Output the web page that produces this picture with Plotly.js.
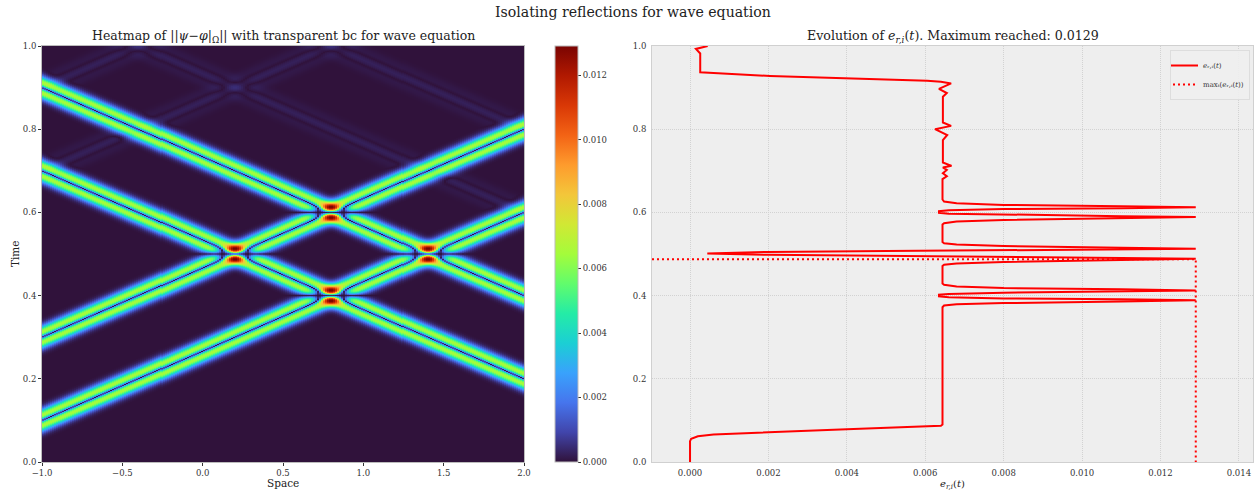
<!DOCTYPE html>
<html><head><meta charset="utf-8">
<script src="https://cdn.plot.ly/plotly-3.0.1.min.js"></script>
<style>html,body{margin:0;padding:0;background:#fff}#c{width:1255px;height:491px}</style>
</head><body><div id="c"></div>
<script>
// ---- right panel: curve ----
const curveErr = [0,0,0.00003,0.0002,0.0006,0.002,0.004,0.0064,0.00644,0.00644,0.00648,0.0068,0.008,0.011,0.0129,0.011,0.008,0.0066,0.00635,0.00635,0.0066,0.008,0.011,0.0129,0.011,0.008,0.0068,0.00648,0.00644,0.00644,0.00648,0.0068,0.008,0.011,0.0129,0.011,0.008,0.005,0.002,0.00044,0.002,0.005,0.008,0.011,0.0129,0.011,0.008,0.0068,0.00648,0.00644,0.00644,0.00648,0.0068,0.008,0.011,0.0129,0.011,0.008,0.0066,0.00635,0.00635,0.0066,0.008,0.011,0.0129,0.011,0.008,0.0068,0.00648,0.00644,0.00644,0.00655,0.00645,0.00655,0.00645,0.00667,0.00645,0.00645,0.00656,0.00625,0.00666,0.00645,0.00645,0.00655,0.00635,0.00666,0.0064,0.00605,0.004,0.00204,0.0006,0.00026,0.00026,0.00015,0.00045];
const curveTime = [0,0.05,0.056,0.062,0.066,0.072,0.079,0.087,0.09,0.372,0.376,0.379,0.382,0.386,0.389,0.391,0.393,0.396,0.398,0.402,0.404,0.407,0.409,0.412,0.415,0.418,0.422,0.426,0.429,0.471,0.474,0.477,0.481,0.485,0.4885,0.4905,0.4925,0.495,0.498,0.5015,0.505,0.507,0.509,0.511,0.5125,0.515,0.519,0.523,0.526,0.529,0.571,0.574,0.578,0.582,0.586,0.589,0.591,0.594,0.597,0.599,0.603,0.605,0.608,0.61,0.6125,0.615,0.618,0.622,0.626,0.631,0.68,0.687,0.694,0.702,0.708,0.712,0.72,0.774,0.786,0.8,0.808,0.816,0.878,0.887,0.897,0.91,0.914,0.9167,0.9223,0.928,0.935,0.9368,0.982,0.993,1];
const maxErr = [-0.00097,0.0129,0.0129];
const maxTime = [0.4875,0.4875,0];

// ---- left panel: field built from values ----
const fallingBandStart = [0.7,0.9];        // t where each falling band meets x=-1
const risingBandStart = [0.1,0.3];         // t where each rising band meets x=-1
const fallingEchoStart = [1.1,1.3];        // faint reflected bands
const risingEchoStart = [0.7,0.9];
const bandSlope = 1/6;                     // dt/dx
const pulseOffset = [0,0.0025,0.005,0.0075,0.01,0.0125,0.015,0.0175,0.02,0.0225,0.025,0.03,0.035,0.04,0.045,0.05];
const pulseValue  = [0,0.0024,0.0044,0.0056,0.0063,0.0065,0.0064,0.0058,0.005,0.004,0.0031,0.0016,0.0007,0.00025,0.00006,0];
const echoOffset = [0,0.006,0.012,0.02,0.028,0.036,0.045];
const echoValue  = [0.00026,0.00018,0,-0.00012,-0.00009,-0.00003,0];
const turboColors = ["#30123b","#4145ab","#4675ed","#39a2fc","#1bcfd4","#24eca6","#61fc6c","#a4fc3b","#d1e834","#f3c63a","#fe9b2d","#f36315","#d93806","#b11901","#7a0402"];

function lookup(xs, ys, v){
  if (v >= xs[xs.length-1]) return 0;
  let i = 1; while (xs[i] < v) i++;
  return ys[i-1] + (ys[i]-ys[i-1])*(v-xs[i-1])/(xs[i]-xs[i-1]);
}
const pulse = s => Math.sign(s)*lookup(pulseOffset,pulseValue,Math.abs(s));
const echo  = s => lookup(echoOffset,echoValue,Math.abs(s));

const nx = 240, nt = 416, xs = [], ts = [], z = [];
for (let i=0;i<nx;i++) xs.push(-1+3*(i+0.5)/nx);
for (let j=0;j<nt;j++) ts.push((j+0.5)/nt);
for (const t of ts){
  const row = [];
  for (const x of xs){
    const d = (x+1)*bandSlope;
    let v = 0;
    for (const b of fallingBandStart) v += pulse(t-(b-d));
    for (const b of risingBandStart)  v += pulse(t-(b+d));
    for (const b of fallingEchoStart) v += echo(t-(b-d));
    for (const b of risingEchoStart)  v += echo(t-(b+d));
    row.push(Math.abs(v));
  }
  z.push(row);
}

const W=1255,H=491,serif='"DejaVu Serif", serif',ink='#333333',edge='#bcbcbc';
const colorscale = turboColors.map((c,i)=>[i/(turboColors.length-1),c]);
const ydom=[1-462/H,1-46/H];
const tf={family:serif,size:8.5,color:ink};
const grid={showgrid:true,gridcolor:'#d2d2d2',griddash:'1px,1px',gridwidth:1};

const data=[
 {type:'heatmap',x:xs,y:ts,z:z,xaxis:'x',yaxis:'y',colorscale,zmin:0,zmax:0.0129,showlegend:false,hoverinfo:'skip',
  colorbar:{x:555/W,xanchor:'left',y:ydom[0],yanchor:'bottom',len:416/H,lenmode:'fraction',thickness:23,thicknessmode:'pixels',xpad:0,ypad:0,
   outlinecolor:edge,outlinewidth:1,dtick:0.002,tick0:0,tickformat:'.3f',ticks:'outside',ticklen:3,tickcolor:ink,tickfont:tf}},
 {type:'scatter',mode:'lines',x:curveErr,y:curveTime,xaxis:'x2',yaxis:'y2',name:'<i>e</i>ᵣ,ᵢ(<i>t</i>)',line:{color:'#ff0000',width:2}},
 {type:'scatter',mode:'lines',x:maxErr,y:maxTime,xaxis:'x2',yaxis:'y2',name:'maxₜ(<i>e</i>ᵣ,ᵢ(<i>t</i>))',line:{color:'#ff0000',width:2,dash:'2px,3px'}}
];
const ann=(text,x,y,size,extra)=>Object.assign({text,x:x/W,y:1-y/H,xref:'paper',yref:'paper',xanchor:'center',yanchor:'middle',showarrow:false,font:{family:serif,size,color:'#222'}},extra||{});
const layout={
 width:W,height:H,margin:{l:0,r:0,t:0,b:0},paper_bgcolor:'#fff',plot_bgcolor:'#eeeeee',font:{family:serif,color:ink},
 xaxis:{domain:[42/W,524/W],range:[-1,2],dtick:0.5,tick0:-1,tickformat:'.1f',ticks:'outside',ticklen:3,tickcolor:ink,tickfont:tf,showgrid:false,zeroline:false,mirror:true,showline:true,linecolor:edge,anchor:'y'},
 yaxis:{domain:ydom,range:[0,1],dtick:0.2,tickformat:'.1f',ticks:'outside',ticklen:3,tickcolor:ink,tickfont:tf,showgrid:false,zeroline:false,mirror:true,showline:true,linecolor:edge,anchor:'x'},
 xaxis2:Object.assign({domain:[652/W,1253/W],range:[-0.00097,0.01436],dtick:0.002,tick0:0,tickformat:'.3f',ticks:'outside',ticklen:3,tickcolor:'rgba(0,0,0,0)',tickfont:tf,zeroline:false,mirror:true,showline:true,linecolor:'#d0d0d0',anchor:'y2'},grid),
 yaxis2:Object.assign({domain:ydom,range:[0,1],dtick:0.2,tickformat:'.1f',ticks:'outside',ticklen:3,tickcolor:'rgba(0,0,0,0)',tickfont:tf,zeroline:false,mirror:true,showline:true,linecolor:'#d0d0d0',anchor:'x2'},grid),
 showlegend:true,
 legend:{x:1250/W,xanchor:'right',y:1-50/H,yanchor:'top',bgcolor:'rgba(238,238,238,0.9)',bordercolor:'#dddddd',borderwidth:1,font:{family:serif,size:7,color:ink},itemwidth:30,tracegroupgap:0,indentation:-8},
 annotations:[
  ann('Isolating reflections for wave equation',633,12,14.1),
  ann('Heatmap of ||<i>ψ</i>−<i>φ</i>|<sub>Ω</sub>|| with transparent bc for wave equation',283,36,12.5),
  ann('Evolution of <i>e<sub>r,i</sub></i>(<i>t</i>). Maximum reached: 0.0129',953,36,12.6),
  ann('Space',283,483,10.5),
  ann('Time',15,254,10.5,{textangle:-90}),
  ann('<i>e<sub>r,i</sub></i>(<i>t</i>)',952,484,10)
 ]
};
Plotly.newPlot('c',data,layout,{displayModeBar:false,staticPlot:true});
</script></body></html>
